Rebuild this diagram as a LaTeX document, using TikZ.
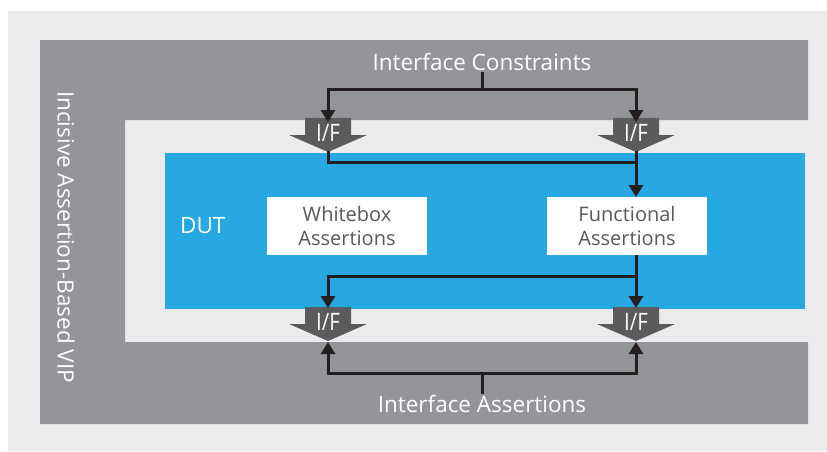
\documentclass[tikz,border=0pt]{standalone}
\usepackage{fontspec}
\setmainfont{Open Sans}
\usetikzlibrary{arrows.meta}
\definecolor{bgl}{HTML}{EBEBED}
\definecolor{dg}{HTML}{939598}
\definecolor{blu}{HTML}{27A8E0}
\definecolor{ifc}{HTML}{5A5B5D}
\definecolor{ln}{HTML}{231F20}
\definecolor{txt}{HTML}{58595B}
\tikzset{
  conn/.style={draw=ln,line width=3pt},
  arr/.style={conn,-{Triangle[width=14pt,length=12pt]}},
  wbox/.style={fill=white,minimum width=160pt,minimum height=58pt,inner sep=0pt,align=center,text=txt,font=\fontsize{20}{24}\selectfont},
  lbl/.style={text=white,font=\fontsize{22.5}{24}\selectfont,inner sep=1pt},
  iftxt/.style={text=white,font=\fontsize{24}{24}\selectfont,inner sep=0pt,xscale=0.85},
  ifshape/.pic={\fill[ifc] (-23,0) -- (23,0) -- (23,17) -- (39,17) -- (0,34) -- (-39,17) -- (-23,17) -- cycle;}
}
\begin{document}
\begin{tikzpicture}[x=1pt,y=-1pt]
\useasboundingbox (0,0) rectangle (827,451);
\fill[white] (0,0) rectangle (827,451);
\fill[bgl] (8,11) rectangle (827,451);
% C-shaped dark frame
\fill[dg] (40,40) -- (808,40) -- (808,120) -- (125,120) -- (125,342) -- (808,342) -- (808,424) -- (40,424) -- cycle;
% DUT
\fill[blu] (165,153) rectangle (805,309);
\node[lbl,anchor=west] (dut) at (179,226) {DUT};
\node[wbox] (wb) at (347,226) {Whitebox\\Assertions};
\node[wbox] (fa) at (627,226) {Functional\\Assertions};
% side label
\node[lbl,rotate=-90] (vip) at (66,237) {Incisive Assertion-Based VIP};
% I/F shapes
\pic at (328,118) {ifshape};
\pic at (636,118) {ifshape};
\pic at (328,307) {ifshape};
\pic at (636,307) {ifshape};
\node[iftxt] (tl) at (328,133) {I/F};
\node[iftxt] (tr) at (636,133) {I/F};
\node[iftxt] (bl) at (328,322) {I/F};
\node[iftxt] (br) at (636,322) {I/F};
\coordinate (tlIn) at (328,122);
\coordinate (trIn) at (636,122);
\coordinate (tlTip) at (328,151);
\coordinate (trTip) at (636,151);
\coordinate (blIn) at (328,308);
\coordinate (brIn) at (636,308);
\coordinate (blTip) at (328,342);
\coordinate (brTip) at (636,342);
\coordinate (faTop) at (636,197);
\coordinate (faBot) at (636,255);
% labels
\node[lbl] (ic) at (482,62) {Interface Constraints};
\node[lbl] (ia) at (482,404) {Interface Assertions};
\coordinate (jt) at (482,89);
\coordinate (jm) at (636,162);
\coordinate (jd) at (636,276);
\coordinate (jb) at (482,373);
% connectors
\draw[conn] (ic.south) -- (jt);
\draw[arr] (jt) -| (tlIn);
\draw[arr] (jt) -| (trIn);
\draw[conn] (tlTip) |- (jm);
\draw[arr] (trTip) -- (faTop);
\draw[arr] (faBot) -- (brIn);
\draw[arr] (jd) -| (blIn);
\draw[conn] (ia.north) -- (jb);
\draw[arr] (jb) -| (blTip);
\draw[arr] (jb) -| (brTip);
\end{tikzpicture}
\end{document}
